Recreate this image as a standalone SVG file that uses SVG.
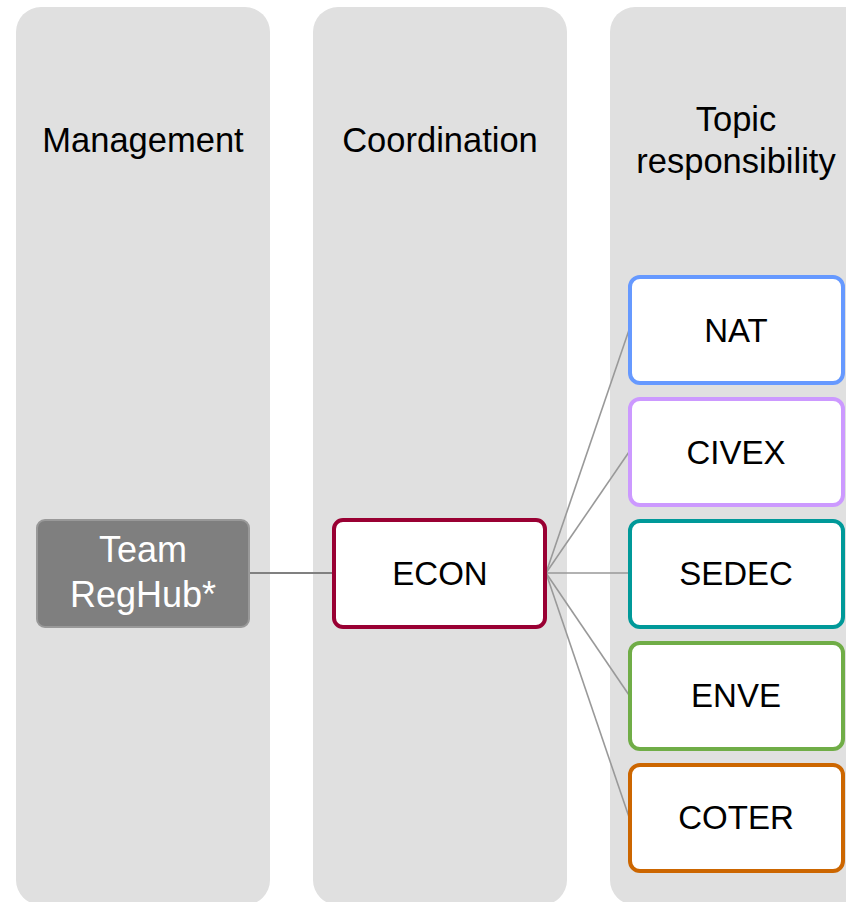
<svg xmlns="http://www.w3.org/2000/svg" width="846" height="902" viewBox="0 0 846 902">
<style>
.panel{fill:#e0e0e0}
.t{font-family:"Liberation Sans",Arial,sans-serif;font-size:33px;text-anchor:middle;fill:#000}
.h{font-size:34.5px}
.w{fill:#fff;font-size:36px}
.box{fill:#fff;stroke-width:4}
.c{stroke:#999;stroke-width:1.6;fill:none}
</style>
<rect width="846" height="902" fill="#fff"/>
<g id="panels">
<rect class="panel" x="16" y="7" width="254" height="898" rx="25"/>
<rect class="panel" x="313" y="7" width="254" height="898" rx="25"/>
<rect class="panel" x="610" y="7" width="260" height="898" rx="25"/>
<text class="t h" x="143" y="152">Management</text>
<text class="t h" x="440" y="152">Coordination</text>
<text class="t h" x="736" y="131">Topic</text>
<text class="t h" x="736" y="173">responsibility</text>
</g>
<g id="connectors">
<line x1="250" y1="573" x2="333" y2="573" stroke="#808080" stroke-width="2"/>
<line class="c" x1="546" y1="573" x2="629" y2="330"/>
<line class="c" x1="546" y1="573" x2="629" y2="452"/>
<line class="c" x1="546" y1="573" x2="629" y2="573"/>
<line class="c" x1="546" y1="573" x2="629" y2="695"/>
<line class="c" x1="546" y1="573" x2="629" y2="817"/>
</g>
<g id="team">
<rect x="37" y="520" width="212" height="107" rx="8" fill="#7f7f7f" stroke="#999" stroke-width="2"/>
<text class="t w" x="143" y="562">Team</text>
<text class="t w" x="143" y="607">RegHub*</text>
</g>
<g id="econ">
<rect class="box" x="334" y="520" width="211" height="107" rx="9" stroke="#990033" stroke-width="3.5"/>
<text class="t" x="440" y="585">ECON</text>
</g>
<g id="nat">
<rect class="box" x="630" y="277" width="213" height="106" rx="10" stroke="#6699ff"/>
<text class="t" x="736" y="342">NAT</text>
</g>
<g id="civex">
<rect class="box" x="630" y="399" width="213" height="106" rx="10" stroke="#cc99ff"/>
<text class="t" x="736" y="464">CIVEX</text>
</g>
<g id="sedec">
<rect class="box" x="630" y="521" width="213" height="106" rx="10" stroke="#009999"/>
<text class="t" x="736" y="585">SEDEC</text>
</g>
<g id="enve">
<rect class="box" x="630" y="643" width="213" height="106" rx="10" stroke="#70ad47"/>
<text class="t" x="736" y="707">ENVE</text>
</g>
<g id="coter">
<rect class="box" x="630" y="765" width="213" height="106" rx="10" stroke="#cc6600"/>
<text class="t" x="736" y="829">COTER</text>
</g>
</svg>
